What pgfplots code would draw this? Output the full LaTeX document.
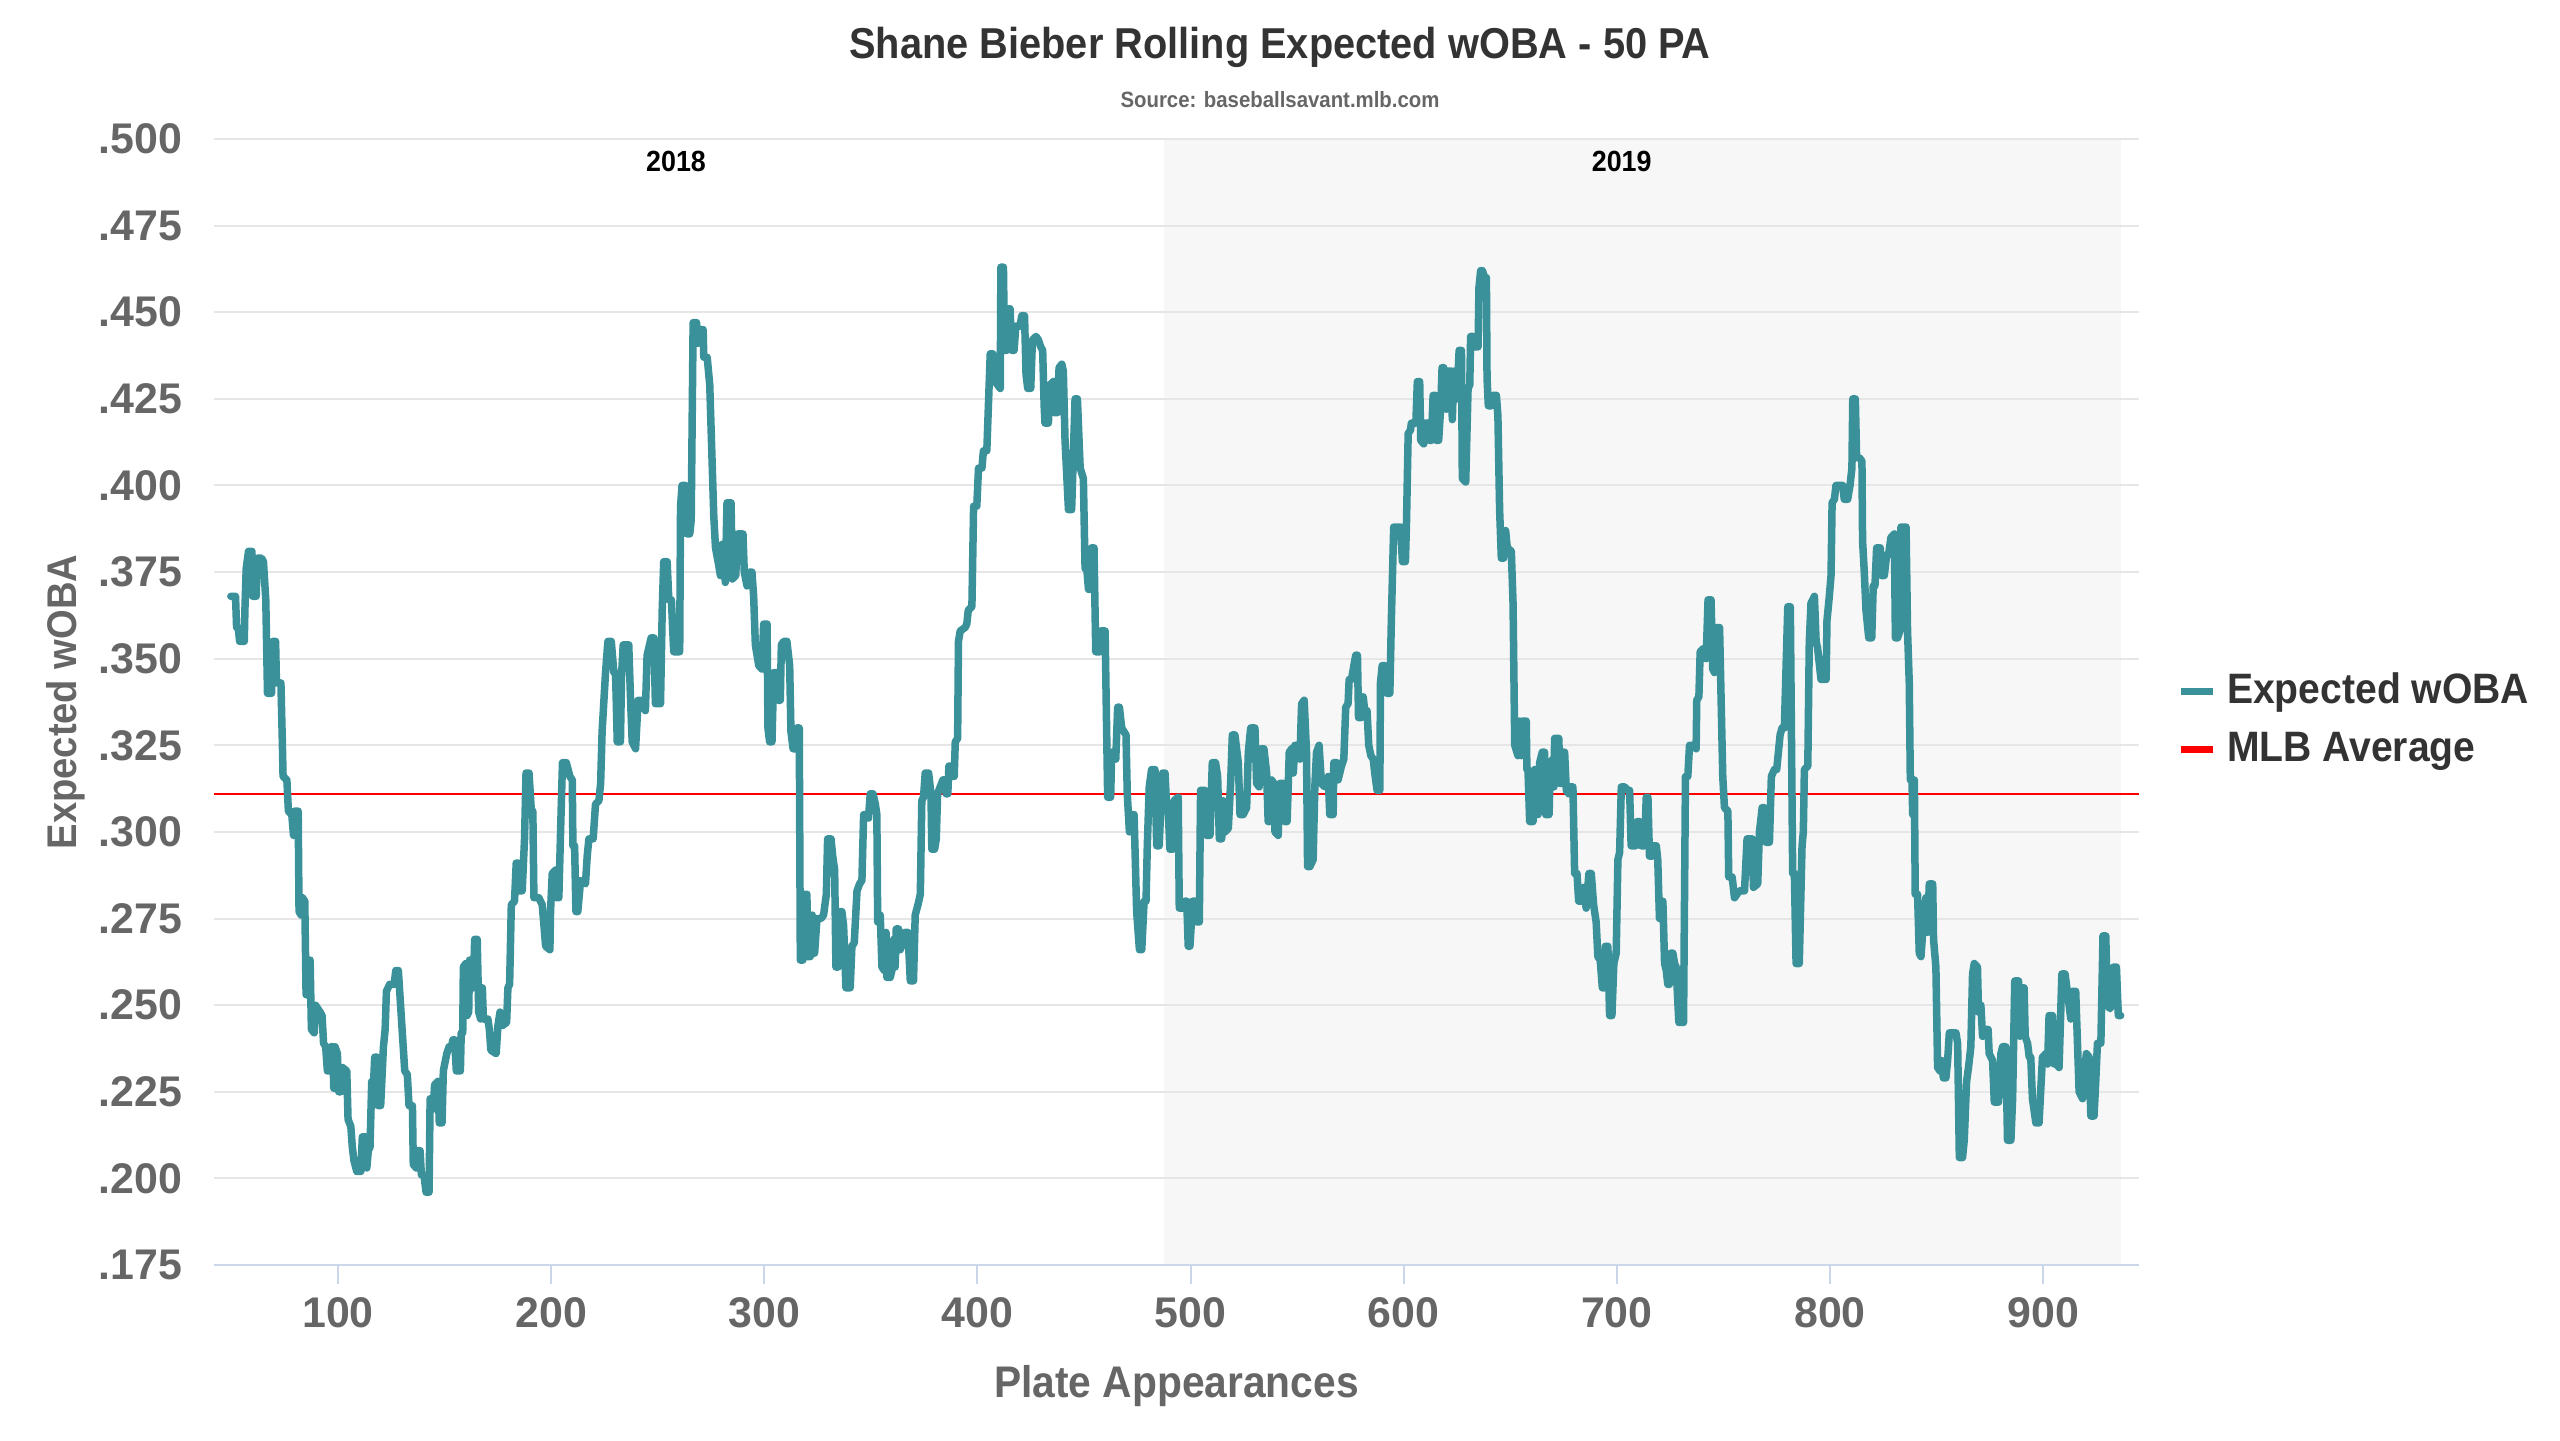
\documentclass[border=0pt]{standalone}
\usepackage{fontspec}
\usepackage{pgfplots}
\pgfplotsset{compat=1.18}
\setmainfont{Liberation Sans}
\newfontfamily\cf{Liberation Sans}[FakeStretch=0.92]
\definecolor{cteal}{HTML}{3A9199}
\definecolor{cgrid}{HTML}{E6E6E6}
\definecolor{cband}{HTML}{F7F7F7}
\definecolor{caxis}{HTML}{CCD6EB}
\definecolor{cdark}{HTML}{333333}
\definecolor{cgray}{HTML}{666666}
\definecolor{cred}{HTML}{FF0000}
\begin{document}
\begin{tikzpicture}
\node[anchor=base, text=cdark, font=\cf\bfseries\fontsize{12.3}{14}\selectfont] at (128mm,138.1mm) {Shane Bieber Rolling Expected wOBA - 50 PA};
\node[anchor=base, text=cgray, font=\cf\bfseries\fontsize{6.3}{8}\selectfont] at (128mm,133.2mm) {Source: baseballsavant.mlb.com};
\begin{axis}[
  set layers,
  at={(21.4mm,17.5mm)}, anchor=south west,
  scale only axis, width=192.5mm, height=112.6mm,
  xmin=41.8, xmax=945, ymin=0.175, ymax=0.5,
  axis x line*=bottom, axis y line*=left,
  x axis line style={draw=caxis, line width=0.2mm, -},
  y axis line style={draw=none, -},
  xtick={100,200,300,400,500,600,700,800,900},
  xticklabels={100,200,300,400,500,600,700,800,900},
  ytick={0.175,0.2,0.225,0.25,0.275,0.3,0.325,0.35,0.375,0.4,0.425,0.45,0.475,0.5},
  yticklabels={.175,.200,.225,.250,.275,.300,.325,.350,.375,.400,.425,.450,.475,.500},
  ymajorgrids, grid style={cgrid, line width=0.2mm},
  major tick length=1.9mm, tick align=outside,
  xtick style={draw=caxis, line width=0.2mm},
  ytick style={draw=none},
  ticklabel style={font=\bfseries\fontsize{12.2}{14}\selectfont, text=cgray, inner sep=0pt},
  yticklabel style={anchor=east, xshift=-1.2mm},
  xticklabel style={anchor=north, yshift=-1.3mm},
  xlabel={Plate Appearances},
  xlabel style={at={(axis description cs:0.5,-0.1181)}, anchor=base, font=\cf\bfseries\fontsize{12.6}{14}\selectfont, text=cgray},
  ylabel={Expected wOBA},
  ylabel style={at={(axis description cs:-0.0769,0.5)}, anchor=center, font=\cf\bfseries\fontsize{11.8}{14}\selectfont, text=cgray},
  legend style={at={(1,0.5)}, anchor=west, xshift=3.8mm, yshift=-1.8mm, draw=none, fill=none, inner sep=0pt, outer sep=0pt, row sep=2.3mm, column sep=1.1mm, font=\cf\bfseries\fontsize{12.1}{14}\selectfont, text=cdark, nodes={inner sep=0pt}},
  legend cell align=left,
  legend image code/.code={\draw[#1, line width=0.7mm, line cap=butt] (0mm,0mm) -- (3.2mm,0mm);},
]
\addplot[forget plot, on layer=axis background, fill=cband, draw=none] coordinates {(487.3,0.175) (487.3,0.5) (936.5,0.5) (936.5,0.175)} -- cycle;
\addplot[forget plot, cred, line width=0.2mm] coordinates {(41.8,0.311) (945,0.311)};
\addplot[forget plot, cteal, line width=0.75mm, line join=round, line cap=round] coordinates {
(49.7,.368)(51.9,.368)(52.4,.359)(53.2,.359)(53.8,.355)(56.0,.355)(56.3,.364)(56.9,.376)(58.0,.381)(59.6,.381)(60.0,.368)(61.6,.368)(62.1,.379)(64.1,.379)(65.0,.378)(66.1,.367)(66.9,.340)(68.8,.340)(69.4,.355)(70.7,.355)(71.1,.343)(73.2,.343)(73.9,.325)(74.2,.316)(76.0,.315)(76.7,.306)(78.3,.305)(79.1,.299)(79.6,.306)(81.3,.306)(81.7,.277)(82.7,.276)(83.3,.281)(84.4,.280)(85.0,.253)(85.7,.253)(86.3,.263)(86.9,.263)(87.5,.243)(88.8,.242)(89.4,.250)(91.6,.248)(92.5,.247)(93.2,.239)(94.2,.238)(95.0,.231)(96.1,.231)(96.7,.238)(97.5,.238)(98.0,.226)(98.6,.238)(99.7,.236)(100.3,.225)(101.3,.225)(102.1,.232)(104.1,.231)(104.7,.217)(106.0,.215)(106.7,.209)(107.5,.205)(108.8,.202)(110.7,.202)(111.4,.212)(113.0,.212)(113.5,.203)(114.2,.208)(115.0,.209)(115.8,.228)(116.7,.228)(117.2,.235)(118.3,.235)(118.8,.221)(120.0,.221)(121.3,.238)(122.1,.243)(122.7,.254)(124.2,.256)(126.3,.256)(127.1,.260)(128.3,.260)(131.3,.231)(132.5,.230)(133.3,.221)(134.9,.221)(135.3,.204)(136.7,.203)(137.5,.208)(138.5,.208)(139.1,.201)(140.3,.201)(141.3,.196)(142.7,.196)(143.2,.223)(144.2,.223)(144.7,.220)(145.3,.227)(146.9,.228)(147.5,.216)(148.8,.216)(149.4,.231)(151.0,.236)(152.1,.238)(153.2,.238)(153.9,.240)(154.7,.240)(155.5,.231)(157.4,.231)(157.8,.242)(158.5,.242)(158.8,.261)(159.9,.262)(160.5,.247)(161.3,.248)(161.7,.263)(163.0,.263)(163.5,.255)(164.1,.269)(165.3,.269)(166.0,.248)(166.9,.246)(167.7,.255)(168.2,.246)(170.3,.246)(171.0,.243)(171.7,.237)(174.2,.236)(175.0,.244)(176.0,.248)(176.9,.244)(179.1,.245)(179.7,.255)(180.5,.256)(181.3,.279)(182.8,.280)(183.6,.291)(184.6,.291)(185.0,.283)(186.4,.283)(187.5,.298)(188.2,.317)(189.6,.317)(190.7,.306)(191.4,.306)(191.9,.281)(194.2,.281)(195.8,.279)
(197.4,.267)(199.4,.266)(199.7,.277)(200.5,.288)(202.1,.289)(202.5,.281)(203.6,.281)(204.4,.300)(205.3,.320)(207.1,.320)(208.8,.316)(209.9,.315)(210.2,.296)(211.0,.296)(211.6,.277)(212.5,.277)(213.8,.286)(216.1,.285)(216.9,.293)(217.7,.298)(219.7,.298)(220.8,.308)(222.4,.309)(223.2,.314)(223.9,.329)(225.5,.346)(226.6,.355)(228.2,.355)(229.4,.346)(230.2,.346)(231.0,.326)(232.5,.326)(233.0,.345)(233.8,.354)(236.4,.354)(237.2,.339)(238.0,.326)(239.6,.324)(240.8,.338)(242.7,.338)(244.2,.335)(245.0,.351)(246.9,.356)(248.2,.356)(248.9,.337)(251.3,.337)(252.1,.364)(252.8,.378)(254.4,.378)(255.2,.367)(256.4,.367)(257.5,.352)(260.3,.352)(260.7,.394)(261.4,.400)(263.0,.400)(263.8,.386)(265.0,.386)(265.7,.390)(266.6,.447)(268.2,.447)(268.9,.441)(270.0,.445)(271.3,.445)(271.6,.437)(273.2,.437)(274.4,.429)(275.5,.407)(276.3,.391)(277.1,.382)(278.6,.377)(279.4,.374)(280.2,.383)(281.0,.383)(281.7,.372)(282.5,.395)(284.4,.395)(285.0,.373)(286.6,.374)(287.5,.386)(290.0,.386)(290.6,.375)(291.9,.371)(293.1,.375)(294.2,.375)(295.0,.368)(295.8,.354)(297.4,.348)(298.9,.347)(299.7,.360)(301.3,.360)(301.7,.330)(302.5,.326)(303.6,.326)(304.4,.346)(306.0,.346)(306.4,.338)(307.5,.338)(308.0,.354)(309.1,.355)(310.6,.355)(311.9,.348)(312.5,.329)(313.5,.324)(314.6,.324)(315.3,.330)(316.4,.330)(316.9,.263)(318.1,.263)(318.8,.282)(320.0,.282)(320.3,.264)(321.6,.264)(322.5,.276)(323.6,.265)(324.7,.275)(326.6,.275)(327.8,.276)(329.1,.282)(329.7,.298)(331.3,.298)(332.1,.293)(333.0,.289)(333.6,.261)(334.6,.261)(335.3,.277)(336.4,.277)(337.2,.273)(338.3,.255)(340.3,.255)(341.1,.267)(342.2,.268)(343.5,.283)(344.7,.285)(345.8,.286)(346.6,.305)
(347.8,.305)(348.9,.304)(349.7,.311)(351.0,.311)(352.1,.308)(352.8,.305)(353.2,.274)(354.4,.276)(355.2,.261)(356.3,.260)(357.1,.271)(357.5,.258)(359.1,.258)(360.2,.261)(360.7,.269)(361.4,.261)(361.9,.272)(363.0,.272)(363.8,.266)(365.3,.269)(366.1,.271)(367.4,.271)(368.5,.257)(370.0,.257)(370.8,.276)(372.1,.279)(373.2,.282)(373.9,.309)(374.7,.310)(375.5,.317)(377.1,.317)(378.2,.311)(378.6,.295)(379.9,.295)(380.7,.298)(381.3,.311)(382.5,.313)(383.8,.315)(384.6,.315)(385.3,.311)(386.1,.311)(386.6,.319)(387.5,.319)(388.3,.316)(389.1,.316)(389.6,.326)(390.7,.327)(391.1,.355)(391.9,.358)(394.2,.359)(395.0,.360)(395.7,.364)(397.4,.365)(398.2,.394)(399.7,.394)(400.5,.405)(402.1,.405)(402.8,.410)(404.4,.410)(406.0,.438)(407.2,.438)(408.3,.430)(410.7,.428)(411.0,.463)(412.2,.463)(412.7,.439)(413.8,.439)(414.6,.451)(415.3,.451)(416.1,.439)(417.2,.439)(418.0,.446)(420.0,.446)(420.8,.449)(422.1,.449)(422.8,.432)(423.6,.428)(425.0,.428)(425.8,.442)(427.5,.443)(428.6,.442)(429.7,.440)(430.6,.439)(431.3,.423)(431.7,.418)(433.3,.418)(434.1,.429)(435.6,.430)(436.0,.421)(437.5,.421)(438.3,.434)(439.6,.435)(440.3,.433)(441.1,.413)(442.7,.393)(444.2,.393)(445.8,.425)(446.9,.425)(448.2,.405)(449.7,.402)(450.5,.376)(451.3,.376)(452.1,.370)(453.1,.370)(453.6,.382)(454.7,.382)(455.5,.352)(457.5,.352)(457.8,.358)(459.9,.358)(461.1,.310)(462.5,.310)(463.0,.323)(464.1,.323)(464.9,.321)(465.8,.336)(466.6,.336)(467.7,.330)(469.7,.328)(470.3,.311)(471.3,.300)(472.4,.305)(473.5,.305)(474.7,.277)(476.0,.266)(477.1,.266)(478.2,.280)(479.1,.280)(479.7,.296)(480.6,.313)(481.7,.318)(483.3,.318)(484.1,.296)(485.3,.296)(486.0,.307)(486.9,.317)(488.0,.317)(488.8,.307)(489.6,.305)(490.3,.295)(491.6,.295)(492.2,.309)(494.2,.310)(494.7,.278)
(496.6,.278)(497.4,.280)(498.2,.280)(498.9,.267)(499.7,.267)(501.0,.280)(502.1,.280)(502.8,.274)(504.1,.274)(504.7,.312)(506.7,.312)(507.5,.299)(509.1,.299)(510.2,.320)(511.7,.320)(512.7,.316)(513.5,.298)(514.6,.298)(515.3,.309)(516.1,.300)(517.7,.301)(518.8,.314)(519.6,.328)(520.8,.328)(522.4,.320)(523.2,.305)(524.7,.305)(526.3,.307)(527.1,.323)(528.2,.330)(530.2,.330)(531.0,.314)(532.2,.313)(533.0,.324)(534.4,.324)(535.7,.317)(536.4,.303)(537.2,.303)(538.0,.315)(539.1,.314)(539.6,.300)(541.1,.299)(541.9,.314)(543.5,.314)(544.2,.303)(545.3,.303)(546.3,.323)(547.4,.324)(548.2,.317)(548.9,.325)(550.5,.325)(551.3,.321)(552.1,.337)(553.3,.338)(554.4,.323)(554.9,.290)(556.0,.290)(557.5,.292)(558.3,.313)(559.1,.323)(560.3,.325)(561.4,.314)(563.0,.313)(564.6,.316)(565.3,.305)(566.9,.305)(567.2,.320)(568.5,.320)(569.2,.315)(570.8,.319)(571.9,.321)(572.8,.336)(573.9,.337)(574.4,.344)(575.5,.344)(576.6,.348)(577.5,.351)(578.3,.351)(578.8,.333)(580.2,.333)(581.0,.339)(581.7,.335)(582.8,.335)(583.6,.325)(584.6,.322)(585.7,.321)(586.4,.317)(587.5,.312)(588.8,.312)(589.1,.343)(589.9,.348)(591.1,.348)(592.2,.340)(593.5,.340)(594.2,.361)(595.3,.388)(597.4,.388)(598.5,.388)(599.4,.378)(600.8,.378)(601.3,.389)(602.1,.415)(603.2,.416)(603.6,.418)(605.7,.418)(606.4,.430)(607.5,.430)(608.0,.413)(609.4,.412)(610.0,.418)(611.4,.418)(612.2,.413)(613.0,.413)(613.8,.426)(614.9,.426)(615.3,.413)(616.4,.413)(617.4,.423)(618.0,.434)(618.8,.434)(619.2,.424)(620.0,.422)(620.8,.433)(622.4,.433)(622.8,.419)(623.5,.433)(625.0,.425)(626.0,.439)(627.1,.439)(627.5,.402)(629.1,.401)(630.2,.428)(631.0,.429)(631.4,.443)(632.5,.443)(633.3,.440)(634.9,.440)(635.3,.457)(636.1,.462)(636.9,.462)(638.0,.460)(638.8,.460)(639.1,.431)(639.7,.423)(641.1,.423)(641.9,.426)(643.5,.426)(644.2,.420)(645.0,.393)(645.8,.379)
(646.9,.379)(647.8,.387)(648.6,.382)(650.5,.381)(651.3,.366)(652.1,.325)(653.6,.322)(654.4,.332)(655.2,.322)(655.7,.332)(657.5,.332)(657.8,.318)(658.3,.318)(659.1,.303)(660.7,.303)(661.4,.318)(662.2,.318)(663.0,.305)(663.8,.320)(665.0,.323)(666.1,.323)(666.6,.305)(668.2,.305)(668.8,.320)(670.0,.321)(670.5,.313)(670.8,.327)(672.8,.327)(673.2,.314)(673.9,.314)(674.7,.323)(675.5,.323)(676.3,.312)(677.5,.311)(678.2,.313)(679.4,.313)(680.2,.288)(681.3,.288)(682.1,.280)(683.3,.280)(684.4,.284)(685.6,.278)(686.9,.288)(688.0,.288)(689.1,.279)(690.3,.274)(691.1,.264)(692.2,.263)(693.2,.255)(694.2,.255)(694.6,.267)(695.8,.267)(696.6,.247)(697.7,.247)(698.6,.262)(699.7,.265)(700.5,.292)(701.3,.294)(702.1,.313)(703.6,.313)(705.2,.312)(706.0,.312)(706.7,.296)(708.8,.296)(709.6,.303)(710.7,.303)(711.4,.296)(713.0,.296)(713.8,.310)(714.6,.310)(715.3,.293)(716.6,.293)(717.2,.296)(718.5,.296)(719.2,.292)(720.0,.275)(720.8,.280)(721.6,.280)(722.4,.262)(723.2,.260)(723.9,.256)(724.7,.256)(725.2,.265)(726.3,.265)(727.1,.262)(727.8,.261)(729.1,.245)(731.3,.245)(732.2,.316)(733.3,.316)(734.1,.325)(735.7,.325)(737.2,.324)(737.5,.338)(738.5,.339)(739.1,.352)(740.7,.353)(741.9,.350)(742.8,.367)(744.2,.367)(745.0,.347)(745.8,.346)(746.6,.359)(748.2,.359)(749.7,.316)(750.5,.307)(752.1,.306)(752.5,.287)(754.1,.287)(755.2,.281)(757.5,.283)(759.9,.283)(761.1,.298)(763.5,.298)(764.1,.284)(766.1,.285)(766.9,.300)(768.2,.307)(769.2,.307)(770.0,.297)(771.6,.297)(772.5,.316)(773.9,.318)(775.0,.318)(776.6,.328)(777.5,.330)(778.6,.330)(780.2,.365)(781.4,.365)(782.5,.288)(783.3,.288)(784.1,.262)(785.6,.262)(786.9,.296)(787.5,.300)(788.0,.318)(789.6,.319)(790.3,.355)(791.1,.366)(792.7,.368)(793.5,.355)(794.2,.353)(795.8,.344)
(798.2,.344)(798.6,.361)(799.7,.368)(800.5,.374)(801.0,.395)(802.1,.396)(802.8,.400)(803.6,.400)(806.0,.400)(806.7,.396)(808.3,.396)(809.4,.400)(810.3,.405)(810.7,.425)(811.9,.425)(812.5,.408)(813.8,.408)(815.0,.407)(815.3,.384)(816.1,.375)(816.9,.364)(818.2,.356)(819.6,.356)(820.3,.371)(821.1,.371)(821.9,.382)(823.6,.382)(824.2,.374)(825.5,.374)(826.6,.380)(827.5,.380)(828.6,.385)(830.2,.386)(830.7,.356)(831.7,.356)(832.8,.358)(833.3,.388)(835.7,.388)(836.4,.358)(837.2,.343)(837.7,.315)(838.5,.315)(838.8,.305)(839.6,.315)(840.0,.282)(841.1,.282)(841.9,.265)(842.7,.264)(843.5,.271)(845.0,.281)(845.8,.271)(846.6,.285)(848.2,.285)(848.6,.269)(849.7,.261)(850.5,.232)(851.6,.231)(852.5,.234)(853.2,.229)(854.4,.229)(855.2,.234)(856.0,.242)(859.1,.242)(859.9,.239)(860.7,.206)(862.2,.206)(863.0,.211)(864.1,.228)(865.0,.232)(866.1,.238)(866.9,.259)(867.7,.262)(869.2,.261)(869.7,.248)(870.8,.250)(871.6,.241)(873.2,.243)(874.2,.243)(874.7,.236)(876.3,.234)(877.1,.222)(879.1,.222)(880.2,.236)(881.0,.238)(882.5,.238)(883.3,.211)(884.9,.211)(885.7,.223)(886.7,.257)(888.5,.257)(889.1,.241)(890.0,.255)(891.1,.255)(891.6,.241)(892.7,.239)(893.5,.235)(894.2,.235)(895.0,.223)(896.6,.216)(898.1,.216)(899.7,.235)(901.3,.236)(902.1,.233)(902.8,.247)(904.4,.247)(905.2,.233)(906.3,.233)(907.5,.232)(908.8,.259)(910.3,.259)(912.2,.250)(913.0,.246)(913.8,.254)(915.3,.254)(916.9,.225)(918.5,.223)(919.2,.230)(920.3,.236)(921.6,.235)(922.4,.218)(923.9,.218)(924.7,.228)(925.5,.239)(927.1,.239)(928.1,.270)(929.4,.270)(930.2,.250)(931.4,.249)(932.1,.250)(933.0,.261)(934.4,.261)(935.3,.247)(936.4,.247)
};
\addlegendimage{cteal}
\addlegendentry{Expected wOBA}
\addlegendimage{cred}
\addlegendentry{MLB Average}
\node[inner sep=0pt, anchor=center, font=\cf\bfseries\fontsize{8.3}{10}\selectfont, text=black] at (axis cs:258.6,0.4936) {2018};
\node[inner sep=0pt, anchor=center, font=\cf\bfseries\fontsize{8.3}{10}\selectfont, text=black] at (axis cs:702.3,0.4936) {2019};
\end{axis}
\pgfresetboundingbox
\useasboundingbox (0,0) rectangle (256mm,144mm);
\end{tikzpicture}
\end{document}
